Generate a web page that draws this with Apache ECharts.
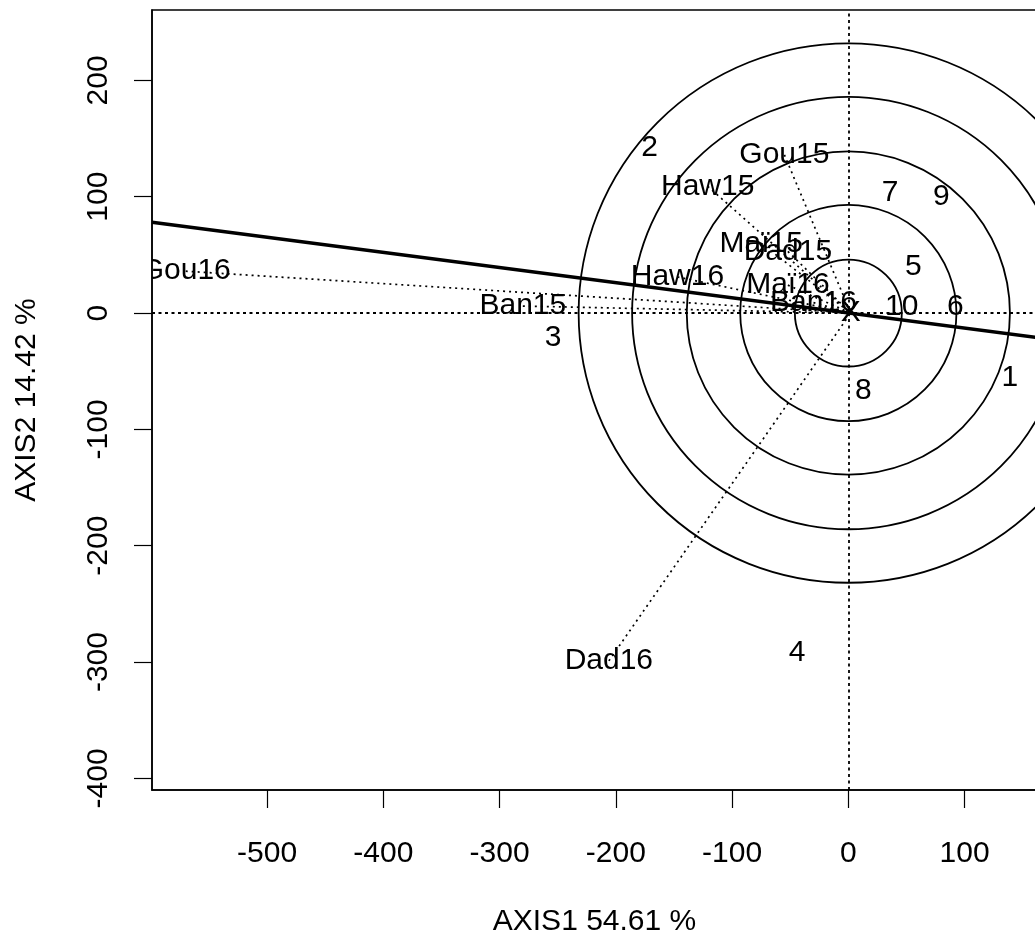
<!DOCTYPE html>
<html>
<head>
<meta charset="utf-8">
<title>AXIS1 / AXIS2</title>
<script src="https://cdn.jsdelivr.net/npm/echarts@6/dist/echarts.min.js"></script>
<style>
  html, body { margin: 0; padding: 0; background: #fff; }
  #main { width: 1035px; height: 939px; }
</style>
</head>
<body>
<div id="main"></div>
<script>
// tick values on both axes
const xTicks = [-500, -400, -300, -200, -100, 0, 100]
const yTicks = [-400, -300, -200, -100, 0, 100, 200]

// labelled points joined to the centre by dotted lines
const starNames = ['Gou15', 'Haw15', 'Maï15', 'Dad15', 'Maï16', 'Ban16', 'Haw16', 'Gou16', 'Ban15', 'Dad16']
const starX = [-55, -121, -75, -52, -52, -30, -147, -570, -280, -206]
const starY = [136, 109, 60, 53, 24, 9, 31, 36, 6, -299]

// numbered points (no lines)
const siteNames = ['1', '2', '3', '4', '5', '6', '7', '8', '9', '10']
const siteX = [139, -171, -254, -44, 56, 92, 36, 13, 80, 46]
const siteY = [-56, 142, -21, -292, 40, 5, 103, -67, 100, 5]

// centre of the star, marked X
const centreX = [2]
const centreY = [0]

// radii of the concentric circles round the origin
const circleRadii = [46, 93, 139, 186, 232]

// thick line end points
const lineX = [-599, 162.3]
const lineY = [78, -21]

const FONT = 'Liberation Sans, Arial, Helvetica, sans-serif'

let starLines = starNames.map((n, i) => ({
  coords: [[starX[i], starY[i]], [centreX[0], centreY[0]]]
}))
let labelData = starNames.map((n, i) => [starX[i], starY[i], n])
  .concat(siteNames.map((n, i) => [siteX[i], siteY[i], n]))
  .concat([[centreX[0], centreY[0], 'X']])

let chart = echarts.init(document.getElementById('main'), null, { renderer: 'canvas' })

let option = {
  backgroundColor: '#fff',
  animation: false,
  grid: {
    left: 152,
    top: 10,
    width: 885,
    height: 780,
    show: true,
    borderColor: '#000',
    borderWidth: 1.5,
    outerBoundsMode: 'none'
  },
  xAxis: {
    type: 'value',
    min: -599,
    max: 162.3,
    name: 'AXIS1 54.61 %',
    nameLocation: 'middle',
    nameGap: 117,
    nameTextStyle: { color: '#000', fontSize: 30, fontFamily: FONT },
    axisLine: { show: true, onZero: false, lineStyle: { color: '#000', width: 1.5 } },
    axisTick: { show: true, length: 18, customValues: xTicks, lineStyle: { color: '#000', width: 1.2 } },
    axisLabel: { customValues: xTicks, margin: 49, color: '#000', fontSize: 30, fontFamily: FONT },
    splitLine: { show: false }
  },
  yAxis: {
    type: 'value',
    min: -410,
    max: 260.5,
    name: 'AXIS2 14.42 %',
    nameLocation: 'middle',
    nameGap: 110,
    nameRotate: 90,
    nameTextStyle: { color: '#000', fontSize: 30, fontFamily: FONT },
    axisLine: { show: true, onZero: false, lineStyle: { color: '#000', width: 1.5 } },
    axisTick: { show: true, length: 18, customValues: yTicks, lineStyle: { color: '#000', width: 1.2 } },
    axisLabel: { customValues: yTicks, rotate: 90, margin: 38, color: '#000', fontSize: 30, fontFamily: FONT },
    splitLine: { show: false }
  },
  series: [
    {
      // concentric circles
      type: 'custom',
      clip: true,
      silent: true,
      data: circleRadii.map(r => [r]),
      encode: { x: -1, y: -1 },
      renderItem: function (params, api) {
        let c = api.coord([0, 0])
        let s = api.size([api.value(0), api.value(0)])
        return {
          type: 'circle',
          shape: { cx: c[0], cy: c[1], r: s[0] },
          style: { fill: 'none', stroke: '#000', lineWidth: 1.8 }
        }
      }
    },
    {
      // dotted lines from each label to the centre
      type: 'lines',
      coordinateSystem: 'cartesian2d',
      silent: true,
      symbol: 'none',
      lineStyle: { color: '#000', width: 1.7, type: [2, 4], opacity: 1 },
      data: starLines
    },
    {
      // thick line and the two dotted axes through 0
      type: 'line',
      silent: true,
      symbol: 'none',
      lineStyle: { color: '#000', width: 3.6 },
      data: lineX.map((x, i) => [x, lineY[i]]),
      markLine: {
        silent: true,
        symbol: 'none',
        label: { show: false },
        lineStyle: { color: '#000', width: 1.8, type: [3, 3.5] },
        data: [{ xAxis: 0 }, { yAxis: 0 }]
      }
    },
    {
      // text labels
      type: 'custom',
      clip: true,
      silent: true,
      data: labelData,
      renderItem: function (params, api) {
        let p = api.coord([api.value(0), api.value(1)])
        let txt = labelData[params.dataIndex][2]
        return {
          type: 'text',
          x: p[0],
          y: p[1],
          style: {
            text: txt,
            fill: '#000',
            font: '30px ' + FONT,
            align: 'center',
            verticalAlign: 'middle'
          }
        }
      }
    }
  ]
}

chart.setOption(option)
</script>
</body>
</html>
